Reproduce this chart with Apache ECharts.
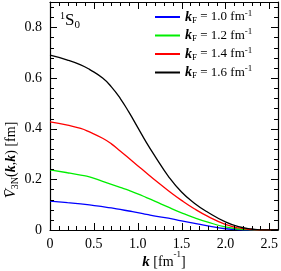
<!DOCTYPE html>
<html><head><meta charset="utf-8">
<script src="https://cdn.jsdelivr.net/npm/echarts@6/dist/echarts.min.js"></script>
<style>html,body{margin:0;padding:0;background:#fff}#c{width:281px;height:271px}#err{position:absolute;left:0;top:0;font:8px sans-serif;color:#c00;width:281px}</style>
</head><body><div id="c"></div><div id="err"></div>
<script>
window.onerror = function (m) { document.getElementById('err').textContent += ' ' + m; };

const kValues = [0, 0.2, 0.35, 0.45, 0.6, 0.7, 0.8, 0.9, 1.0, 1.1, 1.2, 1.35, 1.5, 1.65, 1.8, 2.0, 2.15, 2.3, 2.45, 2.6];
const vKF10 = [0.114, 0.108, 0.103, 0.099, 0.092, 0.087, 0.081, 0.075, 0.069, 0.062, 0.055, 0.047, 0.036, 0.026, 0.016, 0.005, 0.001, 0.0, 0.0, 0.0];
const vKF12 = [0.237, 0.226, 0.217, 0.210, 0.192, 0.180, 0.168, 0.156, 0.143, 0.128, 0.113, 0.090, 0.068, 0.048, 0.031, 0.012, 0.004, 0.001, 0.0, 0.0];
const vKF14 = [0.427, 0.414, 0.401, 0.387, 0.362, 0.340, 0.312, 0.283, 0.254, 0.225, 0.196, 0.155, 0.117, 0.083, 0.054, 0.022, 0.008, 0.002, 0.0, 0.0];
const vKF16 = [0.690, 0.671, 0.652, 0.634, 0.600, 0.565, 0.520, 0.465, 0.405, 0.345, 0.290, 0.212, 0.150, 0.105, 0.070, 0.032, 0.013, 0.004, 0.0, 0.001];
const kFLabels = ['1.0', '1.2', '1.4', '1.6'];
const seriesColors = ['#0000ff', '#00ee00', '#ff0000', '#000000'];
const xTicks = ['0', '0.5', '1.0', '1.5', '2.0', '2.5'];
const yTicks = ['0', '0.2', '0.4', '0.6', '0.8'];
const xTickPos = [0, 0.1, 0.2, 0.3, 0.4, 0.5, 0.6, 0.7, 0.8, 0.9, 1.0, 1.1, 1.2, 1.3, 1.4, 1.5, 1.6, 1.7, 1.8, 1.9, 2.0, 2.1, 2.2, 2.3, 2.4, 2.5, 2.6];
const yTickPos = [0, 0.04, 0.08, 0.12, 0.16, 0.2, 0.24, 0.28, 0.32, 0.36, 0.4, 0.44, 0.48, 0.52, 0.56, 0.6, 0.64, 0.68, 0.72, 0.76, 0.8, 0.84, 0.88];

const FONT = 'Liberation Serif';
const X_MAX = 2.6, Y_MAX = 0.9;
const allV = [vKF10, vKF12, vKF14, vKF16];
const names = kFLabels.map(s => 'kF' + s);

const rich = {
  n: {fontFamily: FONT, fontSize: 13, color: '#000', lineHeight: 16},
  k: {fontFamily: FONT, fontSize: 14, fontWeight: 'bold', fontStyle: 'italic', color: '#000', lineHeight: 16},
  sub: {fontFamily: FONT, fontSize: 9, color: '#000', verticalAlign: 'bottom', lineHeight: 12},
  sup: {fontFamily: FONT, fontSize: 9, color: '#000', verticalAlign: 'top', lineHeight: 16}
};

function lab(arr, step) {
  return function (v) {
    const i = Math.round(v / step);
    return (Math.abs(v - i * step) < 1e-6 && arr[i] !== undefined) ? arr[i] : '';
  };
}

function ax(pos, isX, showLabel) {
  return {
    type: 'value', position: pos,
    min: 0, max: isX ? X_MAX : Y_MAX, interval: isX ? 0.5 : 0.2,
    axisLine: {show: true, onZero: false, lineStyle: {color: '#000', width: 1.2}},
    axisTick: {show: false},
    minorTick: {show: false},
    splitLine: {show: false},
    axisLabel: {show: showLabel, fontFamily: FONT, fontSize: 14, color: '#000',
      margin: isX ? 7 : 8, formatter: isX ? lab(xTicks, 0.5) : lab(yTicks, 0.2)}
  };
}

const textGraphics = [
  {type: 'text', left: 60, top: 11, style: {
    text: '{sup|1}{s|S}{sub|0}',
    rich: {
      sup: {fontFamily: FONT, fontSize: 10, verticalAlign: 'top', lineHeight: 20, fill: '#000'},
      s: {fontFamily: FONT, fontSize: 17, lineHeight: 20, fill: '#000'},
      sub: {fontFamily: FONT, fontSize: 11, verticalAlign: 'bottom', lineHeight: 14, fill: '#000'}
    }
  }},
  {type: 'text', x: 11, y: 160, rotation: Math.PI / 2, style: {
    text: '{v|V\u0304}{sub|3N}{n|(}{k|k}{n|,}{k|k}{n|) [fm]}',
    align: 'center', verticalAlign: 'middle',
    rich: {
      v: {fontFamily: FONT, fontSize: 15, fontStyle: 'italic', lineHeight: 18, fill: '#000'},
      n: {fontFamily: FONT, fontSize: 14, lineHeight: 18, fill: '#000'},
      k: {fontFamily: FONT, fontSize: 14, fontWeight: 'bold', fontStyle: 'italic', lineHeight: 18, fill: '#000'},
      sub: {fontFamily: FONT, fontSize: 10, verticalAlign: 'bottom', lineHeight: 14, fill: '#000'}
    }
  }},
  {type: 'text', x: 164, y: 262, style: {
    text: '{k|k}{n| [fm}{sup|-1}{n|]}',
    align: 'center', verticalAlign: 'middle',
    rich: {
      k: {fontFamily: FONT, fontSize: 15, fontWeight: 'bold', fontStyle: 'italic', lineHeight: 18, fill: '#000'},
      n: {fontFamily: FONT, fontSize: 14, lineHeight: 18, fill: '#000'},
      sup: {fontFamily: FONT, fontSize: 9, verticalAlign: 'top', lineHeight: 24, fill: '#000'}
    }
  }}
];

const chart = echarts.init(document.getElementById('c'), null, {renderer: 'canvas'});
chart.setOption({
  animation: false,
  grid: {left: 50, right: 1, top: 2, bottom: 41},
  legend: {
    orient: 'vertical', left: 150, top: 4, itemWidth: 25, itemHeight: 2, itemGap: 2.5,
    icon: 'rect',
    data: names,
    formatter: function (name) {
      const i = names.indexOf(name);
      return '{k|k}{sub|F}{n| = ' + kFLabels[i] + ' fm}{sup|-1}';
    },
    textStyle: {rich: rich}
  },
  xAxis: [ax('bottom', true, true), ax('top', true, false)],
  yAxis: [ax('left', false, true), ax('right', false, false)],
  graphic: textGraphics,
  series: allV.map((vals, i) => ({
    name: names[i], type: 'line', smooth: true, symbol: 'none',
    xAxisIndex: 0, yAxisIndex: 0,
    lineStyle: {color: seriesColors[i], width: 1.3},
    itemStyle: {color: seriesColors[i]},
    data: kValues.map((k, j) => [k, vals[j]])
  }))
});

// Tick marks on all four sides, positioned through the chart's own axes.
try {
  const finder = {xAxisIndex: 0, yAxisIndex: 0};
  const tickGraphics = [];
  function seg(x1, y1, x2, y2) {
    tickGraphics.push({type: 'line', silent: true, z: 100,
      shape: {x1: x1, y1: y1, x2: x2, y2: y2},
      style: {stroke: '#000', lineWidth: 1}});
  }
  xTickPos.forEach(function (v, i) {
    const L = i % 5 === 0 ? 7 : 4;
    const b = chart.convertToPixel(finder, [v, 0]);
    const t = chart.convertToPixel(finder, [v, Y_MAX]);
    const x = Math.round(b[0]) + 0.5;
    seg(x, b[1], x, b[1] - L);
    seg(x, t[1], x, t[1] + L);
  });
  yTickPos.forEach(function (v, i) {
    const L = i % 5 === 0 ? 7 : 4;
    const l = chart.convertToPixel(finder, [0, v]);
    const r = chart.convertToPixel(finder, [X_MAX, v]);
    const y = Math.round(l[1]) + 0.5;
    seg(l[0], y, l[0] + L, y);
    seg(r[0], y, r[0] - L, y);
  });
  chart.setOption({graphic: textGraphics.concat(tickGraphics)});
} catch (e) {
  document.getElementById('err').textContent += ' ' + e.message;
}
</script></body></html>
